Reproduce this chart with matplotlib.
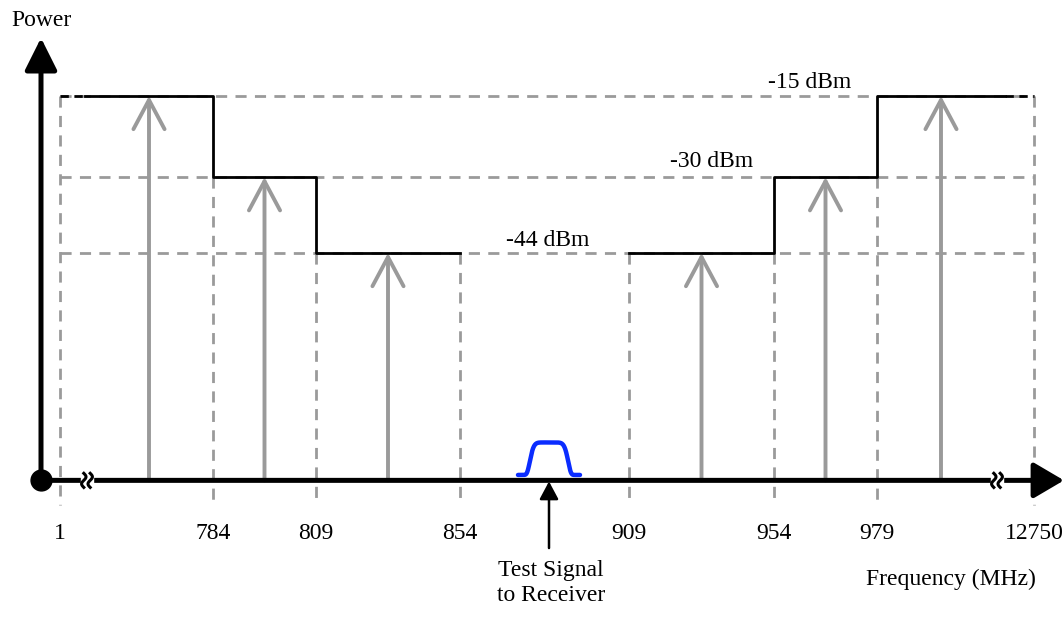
import numpy as np
import matplotlib.pyplot as plt

plt.rcParams['font.family'] = ['Liberation Serif', 'DejaVu Serif']

# band edges (schematic positions along the frequency axis) and their labels
edge_labels = ['1', '784', '809', '854', '909', '954', '979', '12750']
edge_pos = [60, 213, 316, 460, 629, 774, 877, 1034]

# emission limit of each band (dBm); None = receiver band (no limit drawn)
band_level = [-15, -30, -44, None, -44, -30, -15]
level_labels = ['-15 dBm', '-30 dBm', '-44 dBm']
level_values = [-15, -30, -44]

floor = -86          # where the frequency axis sits
grey = '#9a9a9a'

fig = plt.figure(figsize=(10.64, 6.19), dpi=100)
ax = fig.add_axes([0, 0, 1, 1])
ax.set_xlim(0, 1064)
ax.set_ylim(-111.6, 2.7)
ax.axis('off')

# dashed guide lines for the levels
for lv in level_values:
    ax.plot([edge_pos[0], edge_pos[-1]], [lv, lv], color=grey, lw=2,
            dashes=(4, 3), zorder=1)

# dashed vertical guides at band edges, from the upper step down below the axis
for i, x in enumerate(edge_pos):
    lv_left = band_level[i - 1] if i > 0 else None
    lv_right = band_level[i] if i < len(band_level) else None
    tops = [v for v in (lv_left, lv_right) if v is not None]
    top = min(tops) if i not in (0, len(edge_pos) - 1) else -15
    ax.plot([x, x], [top, -90.5], color=grey, lw=2, dashes=(4, 3), zorder=1)

# black step outline of the limits
trim = 25   # black dashed lead-in at the outer edges
left_x = [edge_pos[0] + trim] + edge_pos[1:4]
left_y = band_level[0:3]
step_x, step_y = [], []
for i in range(3):
    step_x += [left_x[i], left_x[i + 1]]
    step_y += [left_y[i], left_y[i]]
ax.plot(step_x, step_y, color='k', lw=2, zorder=3)
right_x = edge_pos[4:7] + [edge_pos[7] - 29]
right_y = band_level[4:7]
step_x, step_y = [], []
for i in range(3):
    step_x += [right_x[i], right_x[i + 1]]
    step_y += [right_y[i], right_y[i]]
ax.plot(step_x, step_y, color='k', lw=2, zorder=3)
ax.plot([edge_pos[0], left_x[0]], [-15, -15], color='k', lw=2, dashes=(3, 2), zorder=3)
ax.plot([right_x[-1], edge_pos[-1]], [-15, -15], color='k', lw=2, dashes=(3, 2), zorder=3)

# grey arrows for each band's emission
arrow_x = [(left_x[i] + left_x[i + 1]) / 2 for i in range(3)] + \
          [(right_x[i] + right_x[i + 1]) / 2 for i in range(3)]
arrow_lv = left_y + right_y
for x, lv in zip(arrow_x, arrow_lv):
    ax.annotate('', xy=(x, lv), xytext=(x, floor),
                arrowprops=dict(arrowstyle='->,head_length=0.75,head_width=0.4',
                                color=grey, lw=2.8, mutation_scale=28,
                                shrinkA=0, shrinkB=0), zorder=2)

# level labels
ax.text(810, -12.5, level_labels[0], ha='center', va='center', fontsize=17)
ax.text(712, -27.2, level_labels[1], ha='center', va='center', fontsize=17)
ax.text(548, -41.8, level_labels[2], ha='center', va='center', fontsize=17)

# axes
ax.annotate('', xy=(41, -4.3), xytext=(41, floor),
            arrowprops=dict(arrowstyle='-|>,head_length=0.9,head_width=0.45',
                            color='k', lw=3.6, mutation_scale=22,
                            shrinkA=0, shrinkB=0), zorder=5)
ax.annotate('', xy=(1064, floor), xytext=(41, floor),
            arrowprops=dict(arrowstyle='-|>,head_length=0.85,head_width=0.5',
                            color='k', lw=3.6, mutation_scale=22,
                            shrinkA=0, shrinkB=0), zorder=5)
ax.plot(41, floor, 'o', color='k', ms=15, zorder=6)

# axis break marks
for bx in (87, 997):
    t = np.linspace(-1, 1, 40)
    ax.fill_between([bx - 6, bx + 6], floor - 1.2, floor + 1.2, color='white', zorder=6)
    for dx in (-3.2, 3.2):
        ax.plot(bx + dx + 2.2 * np.sin(np.pi * t), floor + 1.3 * t,
                color='k', lw=2.2, zorder=7)

# test signal (blue pulse)
fx = np.linspace(518, 580, 300)
pulse = floor + 1.0 + 6.0 * np.exp(-((fx - 549) / 19.5) ** 8)
ax.plot(fx, pulse, color='#0a2cff', lw=3.2, solid_capstyle='round', zorder=6)
ax.annotate('', xy=(549, floor - 0.2), xytext=(549, -98.5),
            arrowprops=dict(arrowstyle='-|>,head_length=0.6,head_width=0.32',
                            color='k', lw=1.8, mutation_scale=18,
                            shrinkA=0, shrinkB=0), zorder=6)

# text
for x, lab in zip(edge_pos, edge_labels):
    ax.text(x, -95.8, lab, ha='center', va='center', fontsize=17)
ax.text(551, -104.9, 'Test Signal\nto Receiver', ha='center', va='center',
        fontsize=17, linespacing=1.25)
ax.text(951, -104.2, 'Frequency (MHz)', ha='center', va='center', fontsize=17)
ax.text(41, -1.1, 'Power', ha='center', va='center', fontsize=17)

fig.savefig('out.png', dpi=100)
